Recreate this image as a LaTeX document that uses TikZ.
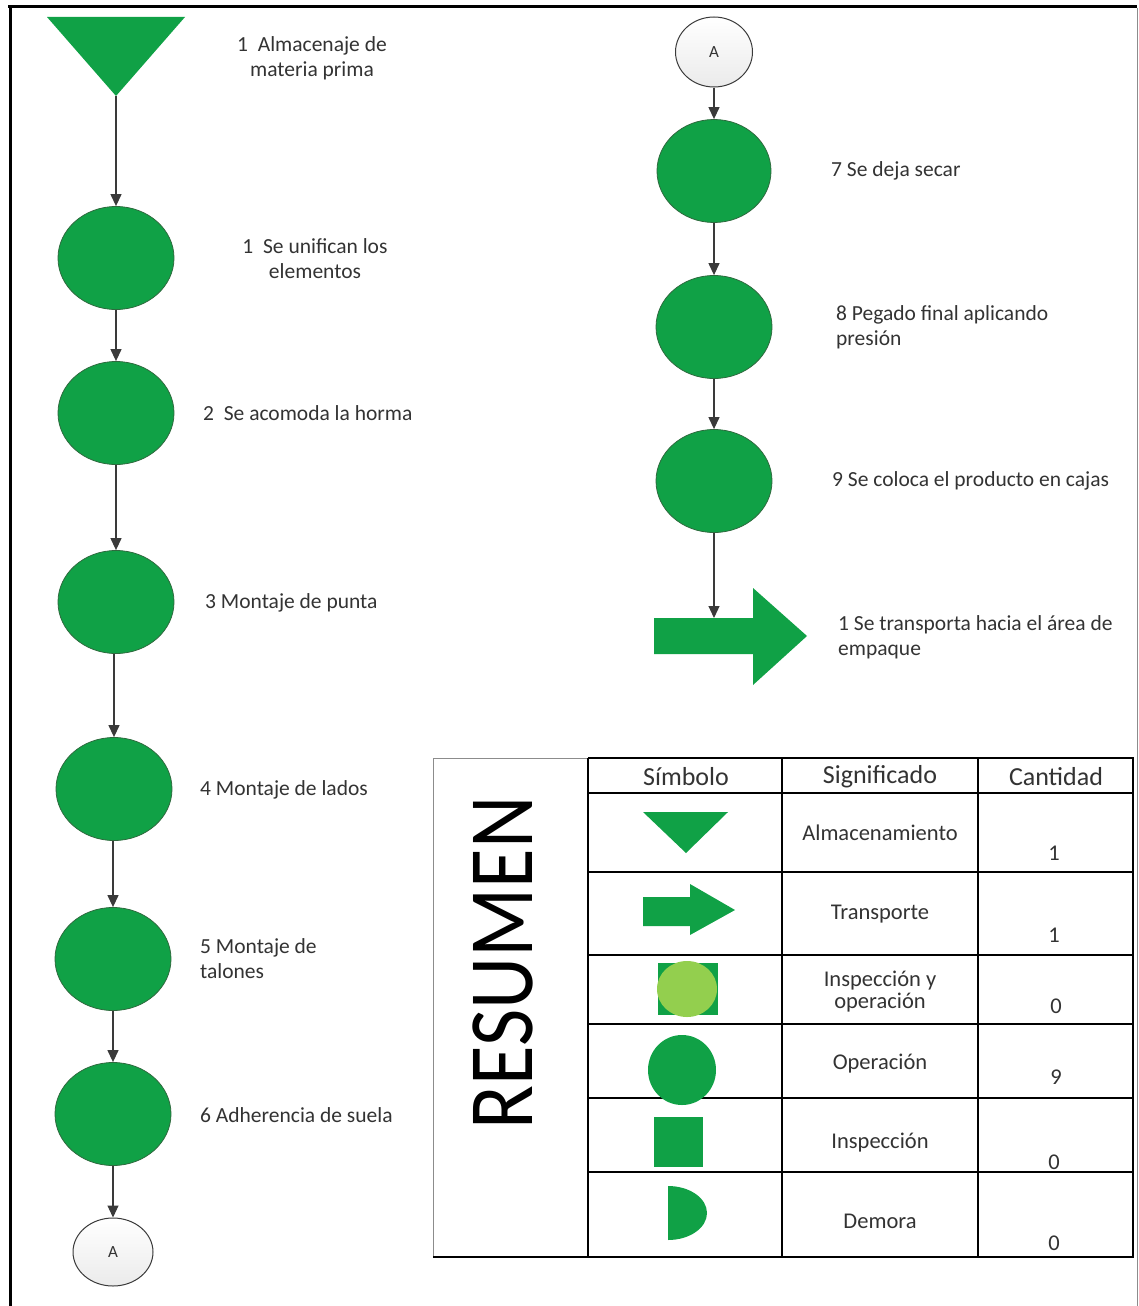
\documentclass[tikz,border=0pt]{standalone}
\usepackage{fontspec}
\setmainfont{Carlito}
\usetikzlibrary{arrows.meta,shapes.geometric}

\definecolor{opgreen}{HTML}{10A146}
\definecolor{opedge}{HTML}{2E6A3E}
\definecolor{lightgreen}{HTML}{93CF4E}
\definecolor{linegray}{HTML}{3A3A3A}
\definecolor{txtgray}{HTML}{333333}
\definecolor{framegray}{HTML}{8C8C8C}

\tikzset{
  opcircle/.style={ellipse, fill=opgreen, draw=opedge, line width=0.8pt,
    minimum width=116pt, minimum height=103pt, inner sep=0pt},
  connA/.style={ellipse, draw=linegray, line width=1pt, top color=white,
    bottom color=black!8, minimum width=80pt, minimum height=68pt,
    inner sep=0pt, text=txtgray, font=\fontsize{17}{17}\selectfont},
  flow/.style={draw=linegray, line width=1.2pt, -{Triangle[width=11pt,length=12pt]}},
  lbl/.style={font=\fontsize{21.5}{25}\selectfont, text=txtgray, inner sep=0pt},
  hdr/.style={font=\fontsize{26}{26}\selectfont, text=txtgray, inner sep=0pt},
  cell/.style={font=\fontsize{22.5}{23}\selectfont, text=txtgray, inner sep=0pt, align=center},
  grid/.style={draw=black, line width=1.5pt},
  symfill/.style={fill=opgreen},
}

\begin{document}
\begin{tikzpicture}[x=1pt, y=-1pt]
\useasboundingbox (0,0) rectangle (1139,1306);
\fill[white] (0,0) rectangle (1139,1306);

% page frame
\draw[black, line width=3pt] (8,7) -- (1137,7);
\draw[black, line width=3pt] (10,6) -- (10,1306);
\draw[framegray, line width=1pt] (1137,8) -- (1137,1306);

% ---------- left column ----------
\fill[opgreen] (47,17) -- (185,17) -- (116,96) -- cycle;
\coordinate (st) at (116,96);

\node[opcircle] (o1) at (116,258) {};
\node[opcircle] (o2) at (116,413) {};
\node[opcircle] (o3) at (116,602) {};
\node[opcircle] (o4) at (114,789) {};
\node[opcircle] (o5) at (113,959) {};
\node[opcircle] (o6) at (113,1114) {};
\node[connA] (ca) at (113,1252) {A};

\draw[flow] (st) -- (o1.north);
\draw[flow] (o1.south) -- (o2.north);
\draw[flow] (o2.south) -- (o3.north);
\draw[flow] (o4.north |- o3.south) -- (o4.north);
\draw[flow] (o5.north |- o4.south) -- (o5.north);
\draw[flow] (o5.south) -- (o6.north);
\draw[flow] (o6.south) -- (ca.north);

\node[lbl, align=center] (l0) at (312,58) {1\ \ Almacenaje de\\materia prima};
\node[lbl, align=center] (l1) at (315,259) {1\ \ Se unifican los\\elementos};
\node[lbl, anchor=west] (l2) at (203,413) {2\ \ Se acomoda la horma};
\node[lbl, anchor=west] (l3) at (205,603) {3 Montaje de punta};
\node[lbl, anchor=west] (l4) at (200,790) {4 Montaje de lados};
\node[lbl, anchor=west, align=left] (l5) at (200,959) {5 Montaje de\\talones};
\node[lbl, anchor=west] (l6) at (200,1115) {6 Adherencia de suela};

% ---------- right column ----------
\node[connA, minimum width=77pt, minimum height=70pt] (cb) at (714,52) {A};
\node[opcircle, minimum width=114pt] (o7) at (714,171) {};
\node[opcircle] (o8) at (714,327) {};
\node[opcircle] (o9) at (714,481) {};

\fill[opgreen] (654,618) -- (753,618) -- (753,588) -- (807,636) -- (753,685)
  -- (753,654) -- (654,654) -- cycle;
\coordinate (tr) at (714,618);

\draw[flow] (cb.south) -- (o7.north);
\draw[flow] (o7.south) -- (o8.north);
\draw[flow] (o8.south) -- (o9.north);
\draw[flow] (o9.south) -- (tr);

\node[lbl, anchor=west] (l7) at (831,171) {7 Se deja secar};
\node[lbl, anchor=west, align=left] (l8) at (836,327) {8 Pegado final aplicando\\presión};
\node[lbl, anchor=west] (l9) at (832,481) {9 Se coloca el producto en cajas};
\node[lbl, anchor=west, align=left] (l10) at (838,637) {1 Se transporta hacia el área de\\empaque};

% ---------- summary table ----------
\draw[framegray, line width=1pt] (433,1257) -- (433,758) -- (588,758);
\draw[grid] (588,758) -- (1133,758) -- (1133,1257) -- (433,1257);
\foreach \cx in {588,782,978} \draw[grid] (\cx,758) -- (\cx,1257);
\foreach \ry in {793,872,955,1024,1098,1172} \draw[grid] (588,\ry) -- (1133,\ry);

\node[rotate=90, inner sep=0pt] (res) at (503,963)
  {\scalebox{0.88}[1]{\fontsize{92}{92}\selectfont RESUMEN}};

\node[hdr] (h1) at (686,777) {Símbolo};
\node[hdr] (h2) at (880,777) {Significado};
\node[hdr] (h3) at (1056,777) {Cantidad};

% symbols
\fill[symfill] (643,812) -- (728,812) -- (686,853) -- cycle;
\fill[symfill] (643,897) -- (690,897) -- (690,884) -- (735,910) -- (690,935)
  -- (690,926) -- (643,926) -- cycle;
\fill[symfill] (658,963) rectangle (718,1015);
\fill[lightgreen] (687,989) ellipse[x radius=30, y radius=28];
\fill[symfill] (682,1070) ellipse[x radius=34, y radius=35];
\fill[symfill] (654,1117) rectangle (703,1167);
\fill[symfill] (668,1186) arc[start angle=-90, end angle=90, x radius=39, y radius=27] -- cycle;

% meanings
\node[cell] (m1) at (880,833) {Almacenamiento};
\node[cell] (m2) at (880,914) {Transporte};
\node[cell] (m3) at (880,992) {Inspección y\\[-1pt]operación};
\node[cell] (m4) at (880,1064) {Operación};
\node[cell] (m5) at (880,1143) {Inspección};
\node[cell] (m6) at (880,1221) {Demora};

% counts
\node[cell] (c1) at (1054,853) {1};
\node[cell] (c2) at (1054,935) {1};
\node[cell] (c3) at (1056,1006) {0};
\node[cell] (c4) at (1056,1077) {9};
\node[cell] (c5) at (1054,1162) {0};
\node[cell] (c6) at (1054,1243) {0};
\end{tikzpicture}
\end{document}
